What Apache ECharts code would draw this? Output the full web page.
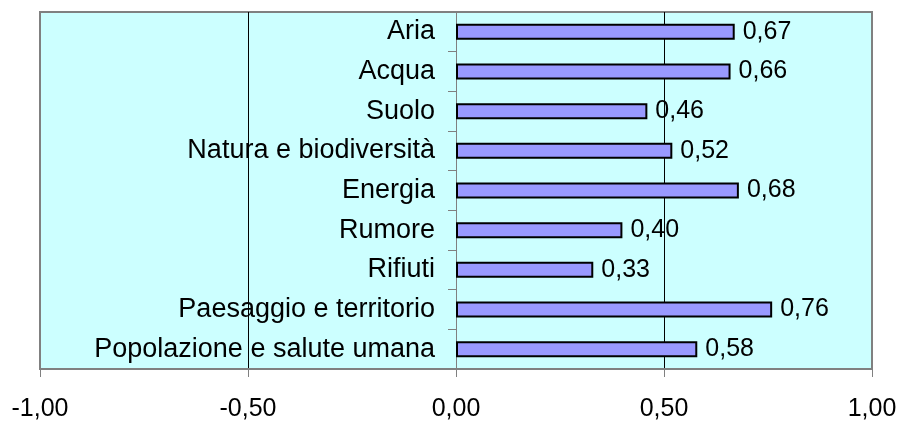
<!DOCTYPE html>
<html>
<head>
<meta charset="utf-8">
<script src="https://cdn.jsdelivr.net/npm/echarts@6/dist/echarts.min.js"></script>
<style>
  html, body { margin: 0; padding: 0; background: #fff; }
  #main { width: 901px; height: 423px; }
</style>
</head>
<body>
<div id="main"></div>
<script>
// categorie, dall'alto in basso
var categorie = ['Aria', 'Acqua', 'Suolo', 'Natura e biodiversità', 'Energia',
    'Rumore', 'Rifiuti', 'Paesaggio e territorio', 'Popolazione e salute umana'];
var valori = [0.67, 0.66, 0.46, 0.52, 0.68, 0.40, 0.33, 0.76, 0.58];
var asseMin = -1;
var asseMax = 1;
var passo = 0.5;

function virgola(v) {
    return v.toFixed(2).replace('.', ',');
}

var myChart = echarts.init(document.getElementById('main'));

// larghezza area grafico: 901 - 40 - 29 = 832, lo zero sta a metà
var metaGriglia = 416;

var option = {
    animation: false,
    textStyle: { fontFamily: 'Liberation Sans, Arial, sans-serif' },
    grid: {
        left: 40,
        right: 29,
        top: 12,
        bottom: 54,
        containLabel: false,
        outerBoundsMode: 'none',
        show: true,
        backgroundColor: '#CCFFFF',
        borderColor: '#808080',
        borderWidth: 2
    },
    xAxis: {
        type: 'value',
        min: asseMin,
        max: asseMax,
        interval: passo,
        axisLine: { show: true, lineStyle: { color: '#808080', width: 2 } },
        axisTick: { show: true, length: 8, lineStyle: { color: '#808080', width: 1 } },
        axisLabel: {
            color: '#000',
            fontSize: 25,
            margin: 28,
            formatter: function (v) { return virgola(v); }
        },
        splitLine: {
            show: true,
            lineStyle: { color: ['#808080', '#000', '#808080', '#000', '#808080'], width: 1 }
        }
    },
    yAxis: {
        type: 'category',
        inverse: true,
        data: categorie,
        offset: -metaGriglia,
        axisLine: { show: true, onZero: false, lineStyle: { color: '#808080', width: 1 } },
        axisTick: { show: true, length: 8, lineStyle: { color: '#808080' } },
        axisLabel: { color: '#000', fontSize: 27, margin: 21 }
    },
    series: [{
        type: 'bar',
        data: valori,
        barWidth: 16,
        itemStyle: { color: '#9999FF', borderColor: '#000', borderWidth: 2 },
        label: {
            show: true,
            position: 'right',
            distance: 8,
            color: '#000',
            fontSize: 25,
            formatter: function (p) { return virgola(p.value); }
        }
    }]
};

myChart.setOption(option);
</script>
</body>
</html>
